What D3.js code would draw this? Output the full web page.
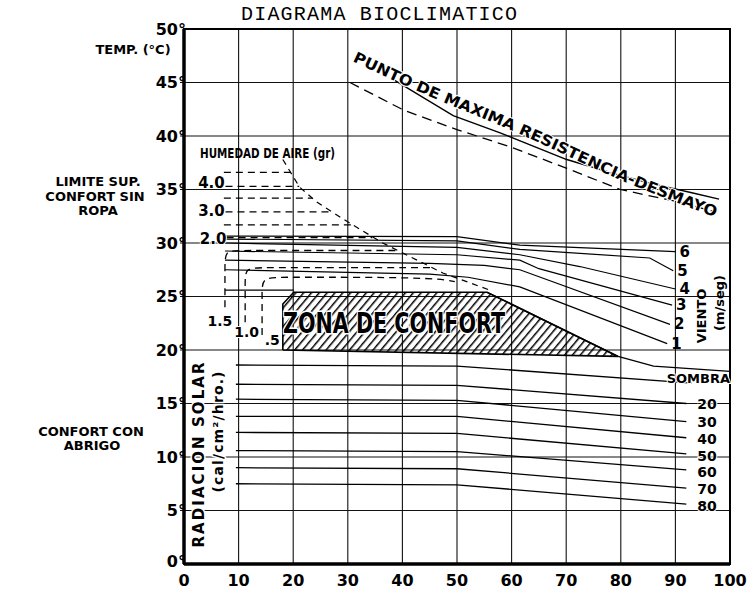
<!DOCTYPE html>
<html lang="en">
<head>
    <meta charset="UTF-8">
    <title>Diagrama Bioclimatico</title>
    <style>
        body {
            margin: 0;
            background: #fff;
        }
        text {
            font-family: 'DejaVu Sans', sans-serif;
            font-weight: bold;
            fill: #000;
        }
    </style>
</head>
<body>
<script src="https://cdn.jsdelivr.net/npm/d3@7"></script>
<script>

    // humedad relativa (%) y temperatura (°C)
    var humTicks = [0, 10, 20, 30, 40, 50, 60, 70, 80, 90, 100];
    var tempTicks = [0, 5, 10, 15, 20, 25, 30, 35, 40, 45, 50];

    // punto de maxima resistencia - desmayo
    var maxSolid = [[38.6, 45.2], [49.3, 41.9], [57.9, 40.3], [70.1, 37.8], [79.3, 36.4], [85.3, 35.6], [93, 34.7], [98, 34.1]];
    var maxDashed = [[30.4, 45.0], [40.3, 42.4], [50, 40.6], [59.7, 39.0], [70, 37.0], [79.9, 35.0], [90, 33.9], [96.7, 33.0]];
    var maxLabelPath = [[30.8, 47.0], [42.3, 44.3], [60.1, 40.5], [80.8, 35.7], [100, 31.9]];
    var maxLabel = 'PUNTO DE MAXIMA RESISTENCIA-DESMAYO';

    // humedad del aire (gr)
    var humBoundary = [[18.1, 37.8], [21.2, 35.2], [24.4, 33.8], [29.9, 32.0], [36.4, 30.0], [47.4, 27.2], [56, 25.6]];
    var humLines = [
        [[7.3, 36.6], [19.5, 36.6]],
        [[7.6, 35.3], [21.1, 35.3]],
        [[7.3, 34.2], [23.5, 34.2]],
        [[7.6, 32.9], [27.2, 32.9]],
        [[7.3, 31.7], [30.9, 31.7]],
        [[7.8, 30.5], [34.5, 30.5]],
        [[7.5, 24.0], [7.5, 27.6], [7.5, 29.3], [9.8, 29.3], [39.2, 29.3]],
        [[11.2, 22.6], [11.2, 26.3], [11.2, 27.7], [14.5, 27.7], [45.4, 27.7]],
        [[14.3, 21.4], [14.3, 25.4], [14.3, 26.8], [18.2, 26.8], [45, 26.8], [49.6, 26.4]]
    ];
    var humLabels = ['4.0', '3.0', '2.0', '1.5', '1.0', '.5'];
    var humLabelPos = [[2.6, 35.6], [2.6, 33.0], [2.9, 30.4], [4.3, 22.7], [9.2, 21.7], [14.8, 20.9]];

    // viento (m/seg)
    var windLabels = ['6', '5', '4', '3', '2', '1'];
    var windLines = [
        [[7.5, 30.65], [50, 30.6], [61.5, 29.8], [90, 29.2]],
        [[7.5, 30.37], [50, 30.2], [61.5, 29.4], [85.3, 28.6], [89.6, 27.4]],
        [[7.5, 30.0], [50, 29.6], [61.5, 28.9], [72.5, 27.8], [90, 25.7]],
        [[7.5, 29.25], [50, 28.9], [61.5, 28.4], [65, 27.6], [89.4, 24.2]],
        [[7.5, 28.4], [45, 28.1], [55, 27.9], [61.5, 27.5], [89, 22.4]],
        [[7.5, 27.5], [45, 27.1], [52, 26.8], [61.5, 25.9], [88.5, 20.6]]
    ];

    // zona de confort
    var comfortZone = [[18.1, 20.0], [18.1, 24.3], [20.1, 25.4], [55.5, 25.4], [79.5, 19.4], [18.1, 20.0]];
    var comfortTop = [[7.5, 25.6], [20.1, 25.6]];
    var comfortEdge = [[55.5, 25.4], [79.5, 19.4], [86, 18.5], [100, 18.0]];

    // radiacion solar (cal/cm2/hro.)
    var radLabels = ['SOMBRA', '20', '30', '40', '50', '60', '70', '80'];
    var radLabelTemps = [17.3, 15.0, 13.3, 11.7, 10.1, 8.6, 7.0, 5.4];
    var radLines = [
        [[9.5, 18.6], [50, 18.5], [93, 16.9]],
        [[9.5, 16.8], [50, 16.7], [92, 15.0]],
        [[9.5, 15.4], [50, 15.3], [92, 13.3]],
        [[9.5, 13.8], [50, 13.8], [92, 11.8]],
        [[9.5, 12.3], [50, 12.2], [92, 10.3]],
        [[9.5, 10.6], [50, 10.5], [92, 8.8]],
        [[9.5, 9.0], [50, 8.9], [92, 7.1]],
        [[9.5, 7.5], [50, 7.4], [92, 5.6]]
    ];

    var width = 747,
        height = 590;

    var x = d3.scaleLinear().domain([0, 100]).range([184, 730]);
    var y = d3.scaleLinear().domain([0, 50]).range([564, 29]);

    var line = d3.line()
        .x(d => x(d[0]))
        .y(d => y(d[1]));

    var svg = d3.select('body').append('svg')
        .attr('width', width)
        .attr('height', height);

    var defs = svg.append('defs');

    defs.append('pattern')
        .attr('id', 'hatch')
        .attr('patternUnits', 'userSpaceOnUse')
        .attr('width', 6)
        .attr('height', 10)
        .attr('patternTransform', 'rotate(40)')
        .append('rect')
        .attr('width', 1.5)
        .attr('height', 10)
        .attr('fill', '#000');

    svg.append('text')
        .attr('x', 379)
        .attr('y', 20)
        .attr('text-anchor', 'middle')
        .attr('textLength', 276)
        .style('font-family', "'Liberation Mono', monospace")
        .style('font-weight', 'normal')
        .style('font-size', '20px')
        .text('DIAGRAMA BIOCLIMATICO');

    // grid
    svg.selectAll('.vgrid')
        .data(humTicks.slice(1, -1))
        .enter()
        .append('line')
        .attr('x1', d => x(d))
        .attr('x2', d => x(d))
        .attr('y1', y(50))
        .attr('y2', y(0))
        .attr('stroke', '#111')
        .attr('stroke-width', 1.1);

    svg.selectAll('.hgrid')
        .data(tempTicks.slice(1, -1))
        .enter()
        .append('line')
        .attr('x1', x(0) - 4)
        .attr('x2', x(100))
        .attr('y1', d => y(d))
        .attr('y2', d => y(d))
        .attr('stroke', '#111')
        .attr('stroke-width', 1.1);

    svg.append('rect')
        .attr('x', x(0))
        .attr('y', y(50))
        .attr('width', x(100) - x(0))
        .attr('height', y(0) - y(50))
        .attr('fill', 'none')
        .attr('stroke', '#000')
        .attr('stroke-width', 2);

    svg.append('line')
        .attr('x1', x(0)).attr('x2', x(0))
        .attr('y1', y(50)).attr('y2', y(0))
        .attr('stroke', '#000').attr('stroke-width', 3.5);

    svg.append('line')
        .attr('x1', x(0)).attr('x2', x(100))
        .attr('y1', y(0)).attr('y2', y(0))
        .attr('stroke', '#000').attr('stroke-width', 3.5);

    // axis labels
    svg.selectAll('.ytick')
        .data(tempTicks)
        .enter()
        .append('text')
        .attr('x', x(0) + 2)
        .attr('y', d => y(d) - (d === 0 ? 3 : 0))
        .attr('text-anchor', 'end')
        .attr('dominant-baseline', 'central')
        .style('font-size', '16px')
        .text(d => d + '°');

    svg.selectAll('.xtick')
        .data(humTicks)
        .enter()
        .append('text')
        .attr('x', d => x(d))
        .attr('y', 580)
        .attr('text-anchor', 'middle')
        .attr('dominant-baseline', 'central')
        .style('font-size', '16px')
        .text(d => d);

    var side = svg.append('g')
        .style('font-size', '13px')
        .attr('text-anchor', 'middle');

    side.append('text').attr('x', 133).attr('y', 54).text('TEMP. (°C)');
    side.append('text').attr('x', 98).attr('y', 186).text('LIMITE  SUP.');
    side.append('text').attr('x', 95).attr('y', 201).text('CONFORT  SIN');
    side.append('text').attr('x', 98).attr('y', 215).text('ROPA');
    side.append('text').attr('x', 91).attr('y', 436).text('CONFORT CON');
    side.append('text').attr('x', 92).attr('y', 450).text('ABRIGO');

    // comfort zone
    svg.append('path')
        .datum(comfortZone)
        .attr('d', line)
        .attr('fill', 'url(#hatch)')
        .attr('stroke', '#000')
        .attr('stroke-width', 1.6);

    svg.append('path')
        .datum(comfortEdge)
        .attr('d', line)
        .attr('fill', 'none')
        .attr('stroke', '#000')
        .attr('stroke-width', 1.3);

    svg.append('path')
        .datum(comfortTop)
        .attr('d', line)
        .attr('fill', 'none')
        .attr('stroke', '#000')
        .attr('stroke-width', 1.3);

    // wind lines
    svg.selectAll('.wind')
        .data(windLines)
        .enter()
        .append('path')
        .attr('d', line)
        .attr('fill', 'none')
        .attr('stroke', '#000')
        .attr('stroke-width', 1.2);

    svg.selectAll('.windLabel')
        .data(windLines)
        .enter()
        .append('text')
        .attr('x', d => x(d[d.length - 1][0]) + 4)
        .attr('y', d => y(d[d.length - 1][1]))
        .attr('dominant-baseline', 'central')
        .style('font-size', '15px')
        .text((d, i) => windLabels[i]);

    svg.append('text')
        .attr('transform', 'translate(706,316) rotate(-90)')
        .attr('text-anchor', 'middle')
        .style('font-size', '13px')
        .text('VIENTO');

    svg.append('text')
        .attr('transform', 'translate(724,303) rotate(-90)')
        .attr('text-anchor', 'middle')
        .style('font-size', '13px')
        .text('(m/seg)');

    // humidity lines
    svg.append('path')
        .datum(humBoundary)
        .attr('d', line)
        .attr('fill', 'none')
        .attr('stroke', '#000')
        .attr('stroke-width', 1.2)
        .attr('stroke-dasharray', '6,5');

    svg.selectAll('.hum')
        .data(humLines)
        .enter()
        .append('path')
        .attr('d', line.curve(d3.curveBasis))
        .attr('fill', 'none')
        .attr('stroke', '#000')
        .attr('stroke-width', 1.3)
        .attr('stroke-dasharray', '7,5');

    line.curve(d3.curveLinear);

    svg.selectAll('.humLabel')
        .data(humLabels)
        .enter()
        .append('text')
        .attr('x', (d, i) => x(humLabelPos[i][0]))
        .attr('y', (d, i) => y(humLabelPos[i][1]))
        .attr('dominant-baseline', 'central')
        .style('font-size', (d, i) => i < 3 ? '15px' : '14px')
        .style('paint-order', 'stroke')
        .attr('stroke', '#fff')
        .attr('stroke-width', 2)
        .text(d => d);

    svg.append('text')
        .attr('x', 200)
        .attr('y', 158)
        .attr('textLength', 135)
        .attr('lengthAdjust', 'spacingAndGlyphs')
        .style('font-size', '14px')
        .text('HUMEDAD DE AIRE (gr)');

    // radiation lines
    svg.selectAll('.rad')
        .data(radLines)
        .enter()
        .append('path')
        .attr('d', line)
        .attr('fill', 'none')
        .attr('stroke', '#000')
        .attr('stroke-width', 1.3);

    svg.selectAll('.radLabel')
        .data(radLabels)
        .enter()
        .append('text')
        .attr('x', (d, i) => i === 0 ? x(100) : x(95.8))
        .attr('y', (d, i) => y(radLabelTemps[i]))
        .attr('text-anchor', (d, i) => i === 0 ? 'end' : 'middle')
        .attr('dominant-baseline', 'central')
        .style('font-size', (d, i) => i === 0 ? '13px' : '14px')
        .style('paint-order', 'stroke')
        .attr('stroke', '#fff')
        .attr('stroke-width', 2)
        .text(d => d);

    svg.append('text')
        .attr('transform', 'translate(204,455) rotate(-90)')
        .attr('text-anchor', 'middle')
        .attr('textLength', 185)
        .style('font-size', '15px')
        .style('paint-order', 'stroke')
        .attr('stroke', '#fff')
        .attr('stroke-width', 3)
        .text('RADIACION  SOLAR');

    svg.append('text')
        .attr('transform', 'translate(223,432) rotate(-90)')
        .attr('text-anchor', 'middle')
        .attr('textLength', 121)
        .style('font-size', '14px')
        .style('paint-order', 'stroke')
        .attr('stroke', '#fff')
        .attr('stroke-width', 3)
        .text('(cal/cm²/hro.)');

    // maximum resistance
    svg.append('path')
        .datum(maxSolid)
        .attr('d', line)
        .attr('fill', 'none')
        .attr('stroke', '#000')
        .attr('stroke-width', 1.4);

    svg.append('path')
        .datum(maxDashed)
        .attr('d', line)
        .attr('fill', 'none')
        .attr('stroke', '#000')
        .attr('stroke-width', 1.3)
        .attr('stroke-dasharray', '10,6');

    defs.append('path')
        .attr('id', 'maxPath')
        .datum(maxLabelPath)
        .attr('d', line.curve(d3.curveMonotoneX));

    line.curve(d3.curveLinear);

    svg.append('text')
        .style('font-size', '15px')
        .style('paint-order', 'stroke')
        .attr('stroke', '#fff')
        .attr('stroke-width', 2)
        .append('textPath')
        .attr('href', '#maxPath')
        .attr('textLength', 395)
        .attr('lengthAdjust', 'spacingAndGlyphs')
        .text(maxLabel);

    // comfort label
    svg.append('text')
        .attr('x', 283)
        .attr('y', 333)
        .attr('textLength', 222)
        .attr('lengthAdjust', 'spacingAndGlyphs')
        .style('font-size', '28px')
        .style('paint-order', 'stroke')
        .attr('stroke', '#fff')
        .attr('stroke-width', 3)
        .text('ZONA DE CONFORT');
</script>
</body>
</html>
